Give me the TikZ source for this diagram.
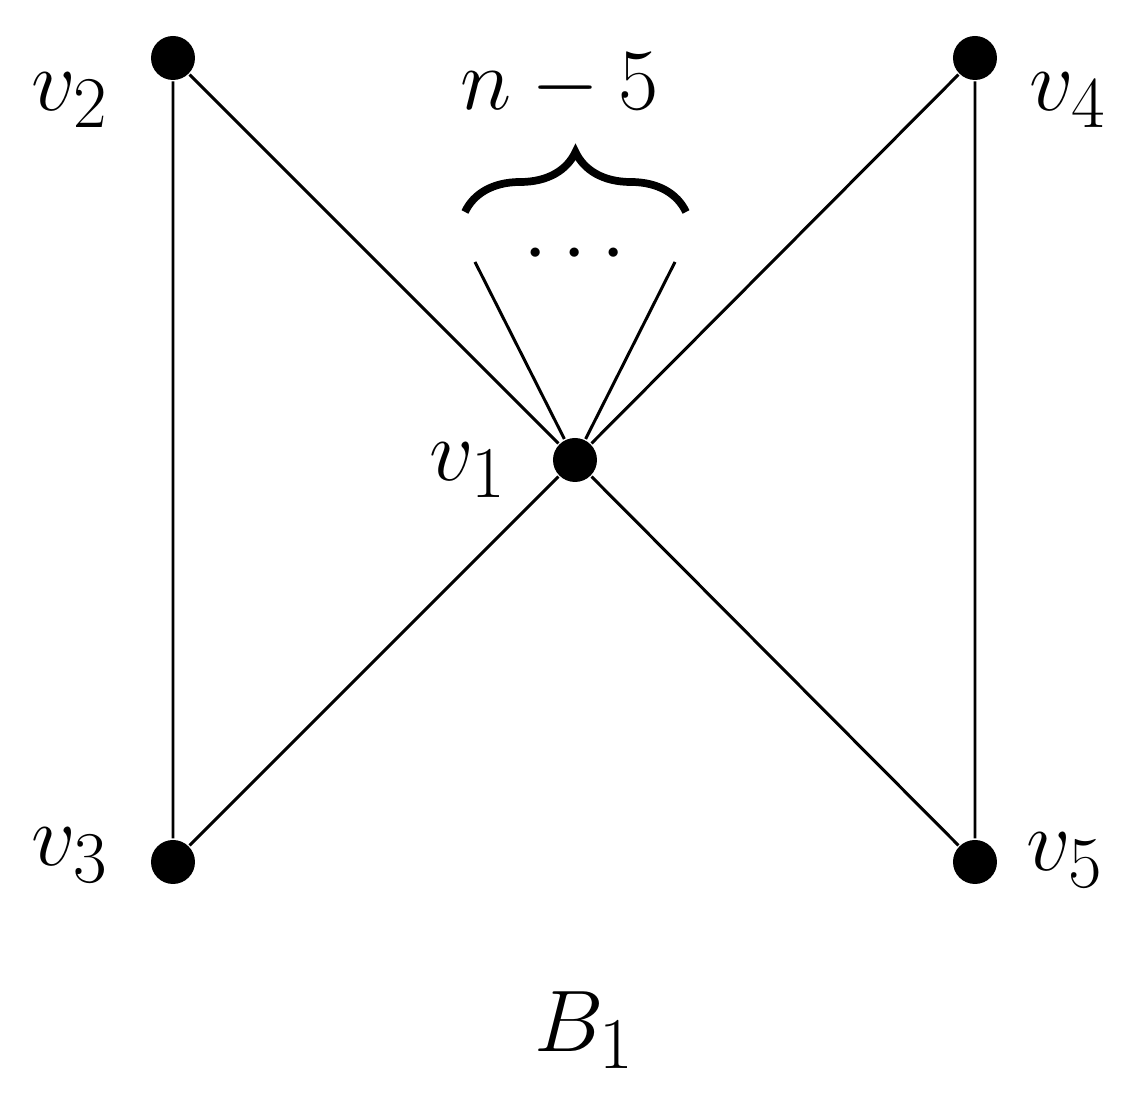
\documentclass[tikz,border=0pt]{standalone}
\usetikzlibrary{positioning, decorations.pathreplacing}

\begin{document}
\begin{tikzpicture}[
    every node/.style={font=\fontsize{28}{34}\selectfont},
    vertex/.style={circle, fill=black, inner sep=0pt, minimum size=0.44cm},
    every path/.style={line width=0.85pt}
]
\useasboundingbox (0,0) rectangle (11.33,11.05);
\node[vertex] (v1) at (5.75,6.45) {};
\node[vertex] (v2) at (1.73,10.47) {};
\node[vertex] (v3) at (1.73,2.43) {};
\node[vertex] (v4) at (9.75,10.47) {};
\node[vertex] (v5) at (9.75,2.43) {};
\coordinate (pl) at (4.75,8.43);
\coordinate (pr) at (6.75,8.43);

\node at (0.7,10.05) {$v_2$};
\node at (0.7,2.5) {$v_3$};
\node at (10.68,10.05) {$v_4$};
\node at (10.65,2.45) {$v_5$};
\node at (4.68,6.35) {$v_1$};
\node (dots) at (5.75,8.5) {$\cdots$};
\node (n5) at (5.6,10.2) {$n-5$};
\node (b1) at (5.85,0.75) {$B_1$};

\draw (v2) -- (v3) (v4) -- (v5)
      (v2) -- (v1) -- (v5) (v3) -- (v1) -- (v4)
      (v1) -- (pl) (v1) -- (pr);
\draw[decorate, decoration={brace, amplitude=0.6cm}, line width=2.2pt] (4.65,8.93) -- (6.86,8.93);
\end{tikzpicture}
\end{document}
